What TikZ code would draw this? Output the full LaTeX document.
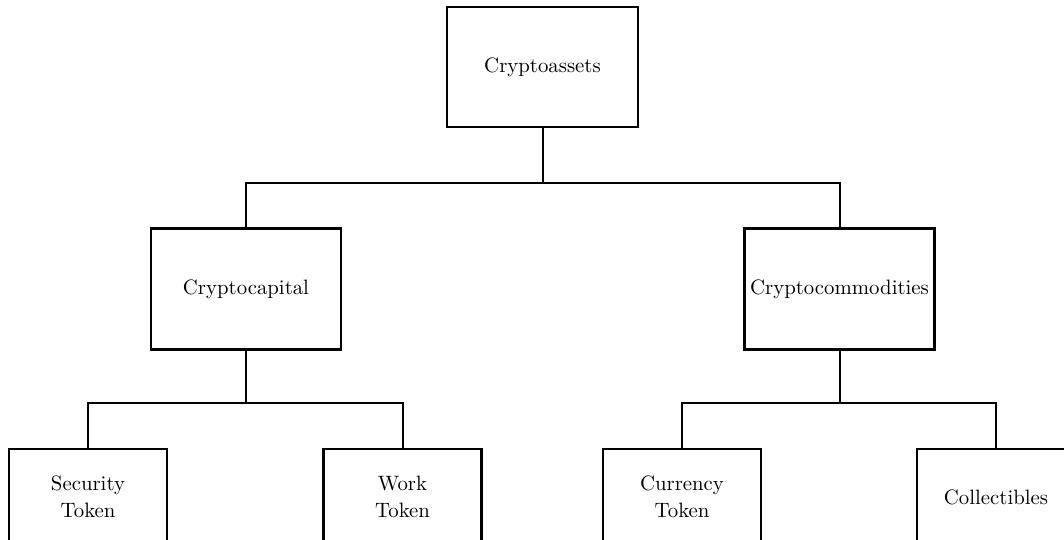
\documentclass[tikz,border=0pt]{standalone}
\usepackage{tikz}
\tikzset{%
  % Specifications for style of nodes:
        base/.style = {rectangle, draw=black, line width=1.2pt,
                       text centered, align=center, inner xsep=1.5pt,
                       font=\fontsize{10.4}{13.5}\selectfont},
   assetbox/.style = {base, minimum width=95.5pt, minimum height=60pt},
   classbox/.style = {base, minimum width=95pt, minimum height=60.5pt},
   tokenbox/.style = {base, minimum width=79pt, minimum height=48pt},
       }

\begin{document}
\begin{tikzpicture}[x=0.5pt, y=-0.5pt, node distance=111pt, line width=1pt]
  \path[use as bounding box] (0,0) rectangle (1064,540);
  \clip (0,0) rectangle (1064,540);
  % Specification of nodes (position, etc.)
  \node (Cryptoassets) [assetbox] at (542.5,67) {Cryptoassets};
  \node (Cryptocapital) [classbox, below of=Cryptoassets, xshift=-148.25pt] {Cryptocapital};
  \node (Cryptocommodities) [classbox, below of=Cryptoassets, xshift=148.5pt] {Cryptocommodities};
  \node (SecurityToken) [tokenbox, below of=Cryptocapital, xshift=-79pt, yshift=7pt] {Security\\Token};
  \node (WorkToken) [tokenbox, below of=Cryptocapital, xshift=78.25pt, yshift=7pt] {Work\\Token};
  \node (CurrencyToken) [tokenbox, below of=Cryptocommodities, xshift=-78.75pt, yshift=7pt] {Currency\\Token};
  \node (Collectibles) [tokenbox, below of=Cryptocommodities, xshift=78.25pt, yshift=7pt] {Collectibles};

  % Branch points of the tree
  \coordinate (TopSplit) at (Cryptoassets.south |- 0,183);
  \coordinate (CapitalSplit) at (Cryptocapital.south |- 0,403);
  \coordinate (CommoditySplit) at (Cryptocommodities.south |- 0,403);

  % Specification of lines between nodes specified above
  \draw (Cryptoassets) -- (TopSplit);
  \draw (Cryptocapital.north) |- (TopSplit) -| (Cryptocommodities.north);
  \draw (Cryptocapital) -- (CapitalSplit);
  \draw (SecurityToken.north) |- (CapitalSplit) -| (WorkToken.north);
  \draw (Cryptocommodities) -- (CommoditySplit);
  \draw (CurrencyToken.north) |- (CommoditySplit) -| (Collectibles.north);
\end{tikzpicture}
\end{document}
